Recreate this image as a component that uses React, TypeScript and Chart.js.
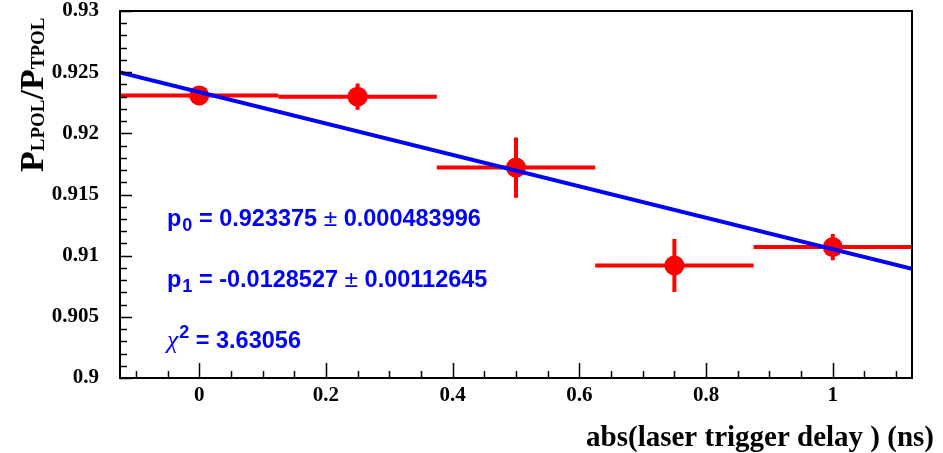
import React, { useEffect, useRef } from "react";
import { Chart, registerables } from "chart.js";
Chart.register(...registerables);

// ---- data ----
const xValues = [0, 0.25, 0.5, 0.75, 1.0];
const yValues = [0.9231, 0.923, 0.9172, 0.9092, 0.9107];
const xErrors = [0.125, 0.125, 0.125, 0.125, 0.125];
const yErrors = [0.0005, 0.00107, 0.00246, 0.00217, 0.00107];
const fitX = [-0.125, 1.125];
const fitY = [0.92498, 0.90892];
const xTickValues = [0, 0.2, 0.4, 0.6, 0.8, 1];
const xTickLabels = ["0", "0.2", "0.4", "0.6", "0.8", "1"];
const yTickValues = [0.9, 0.905, 0.91, 0.915, 0.92, 0.925, 0.93];
const yTickLabels = ["0.9", "0.905", "0.91", "0.915", "0.92", "0.925", "0.93"];
const paramNames = ["p", "p"];
const paramIndex = ["0", "1"];
const paramValues = ["0.923375", "-0.0128527"];
const paramErrors = ["0.000483996", "0.00112645"];
const chi2Value = "3.63056";
const xTitle = "abs(laser trigger delay ) (ns)";

const X_MIN = -0.125, X_MAX = 1.125, Y_MIN = 0.9, Y_MAX = 0.93;
const RED = "#ff0000", BLUE = "#0000ff";
const SERIF = "'Liberation Serif', 'Times New Roman', serif";
const SANS = "'Liberation Sans', Arial, sans-serif";

const decorPlugin = {
  id: "decor",
  beforeDatasetsDraw(chart: any) {
    const { ctx, chartArea, scales } = chart;
    const xs = scales.x, ys = scales.y;
    ctx.save();
    ctx.beginPath();
    ctx.rect(chartArea.left, chartArea.top, chartArea.right - chartArea.left, chartArea.bottom - chartArea.top);
    ctx.clip();
    ctx.strokeStyle = RED;
    ctx.lineWidth = 4;
    ctx.lineCap = "butt";
    for (let i = 0; i < xValues.length; i++) {
      const px = xs.getPixelForValue(xValues[i]);
      const py = ys.getPixelForValue(yValues[i]);
      const x0 = xs.getPixelForValue(xValues[i] - xErrors[i]);
      const x1 = xs.getPixelForValue(xValues[i] + xErrors[i]);
      const y0 = ys.getPixelForValue(yValues[i] - yErrors[i]);
      const y1 = ys.getPixelForValue(yValues[i] + yErrors[i]);
      ctx.beginPath();
      ctx.moveTo(x0, py); ctx.lineTo(x1, py);
      ctx.moveTo(px, y0); ctx.lineTo(px, y1);
      ctx.stroke();
    }
    ctx.restore();
  },
  afterDraw(chart: any) {
    const { ctx, chartArea, scales } = chart;
    const xs = scales.x, ys = scales.y;
    const { left, right, top, bottom } = chartArea;
    ctx.save();
    // ticks
    ctx.strokeStyle = "#000";
    ctx.lineWidth = 1.5;
    ctx.beginPath();
    for (let k = 0; ; k++) {
      const v = -0.1 + k * 0.05;
      if (v > X_MAX + 1e-9) break;
      const major = Math.abs(v / 0.2 - Math.round(v / 0.2)) < 1e-6;
      const px = Math.round(xs.getPixelForValue(v)) + 0.5;
      ctx.moveTo(px, bottom);
      ctx.lineTo(px, bottom - (major ? 15 : 7));
    }
    for (let k = 0; ; k++) {
      const v = Y_MIN + k * 0.001;
      if (v > Y_MAX + 1e-9) break;
      const major = k % 5 === 0;
      const py = Math.round(ys.getPixelForValue(v)) + 0.5;
      ctx.moveTo(left, py);
      ctx.lineTo(left + (major ? 12 : 7), py);
    }
    ctx.stroke();
    // frame
    ctx.lineWidth = 2;
    ctx.strokeRect(left, top, right - left, bottom - top);

    // x title
    ctx.fillStyle = "#000";
    ctx.font = `bold 29px ${SERIF}`;
    ctx.textAlign = "right";
    ctx.textBaseline = "alphabetic";
    ctx.fillText(xTitle, 934, 446);

    // y title (rotated)
    ctx.save();
    ctx.translate(43, 172);
    ctx.rotate(-Math.PI / 2);
    ctx.textAlign = "left";
    let cx = 0;
    const big = `bold 34px ${SERIF}`, small = `bold 19px ${SERIF}`;
    const parts: [string, string, number][] = [
      ["P", big, 0], ["LPOL", small, 1], ["/", big, 0], ["P", big, 0], ["TPOL", small, 1],
    ];
    for (const [t, f, dy] of parts) {
      ctx.font = f;
      ctx.fillText(t, cx, dy);
      cx += ctx.measureText(t).width;
    }
    ctx.restore();

    // fit results
    ctx.fillStyle = BLUE;
    ctx.textAlign = "left";
    const fs = 23.5;
    const boldF = `bold ${fs}px ${SANS}`;
    const subF = `bold ${Math.round(fs * 0.75)}px ${SANS}`;
    const pmF = `${fs + 1}px ${SANS}`;
    const baselines = [226, 287, 348];
    const draw = (t: string, f: string, x: number, y: number) => {
      ctx.font = f;
      ctx.fillText(t, x, y);
      return x + ctx.measureText(t).width;
    };
    for (let i = 0; i < 2; i++) {
      const by = baselines[i];
      let x = 167;
      x = draw(paramNames[i], boldF, x, by);
      x = draw(paramIndex[i], subF, x + 1, by + 5);
      x = draw(" = " + paramValues[i] + " ", boldF, x, by);
      x = draw("\u00b1", pmF, x, by);
      x = draw(" " + paramErrors[i], boldF, x, by);
    }
    {
      const by = baselines[2];
      let x = 167;
      x = draw("\u03c7", `italic ${fs + 2}px ${SERIF}`, x, by);
      x = draw("2", subF, x + 1, by - 10);
      x = draw(" = " + chi2Value, boldF, x, by);
    }
    ctx.restore();
  },
};

export default function App() {
  const ref = useRef<HTMLCanvasElement | null>(null);
  useEffect(() => {
    if (!ref.current) return;
    const chart = new Chart(ref.current, {
      type: "scatter",
      data: {
        datasets: [
          {
            type: "line",
            data: fitX.map((x, i) => ({ x, y: fitY[i] })),
            borderColor: BLUE,
            borderWidth: 4,
            pointRadius: 0,
            fill: false,
            order: 0,
          } as any,
          {
            data: xValues.map((x, i) => ({ x, y: yValues[i] })),
            backgroundColor: RED,
            borderColor: RED,
            borderWidth: 0,
            pointRadius: 10,
            showLine: false,
            order: 1,
          },
        ],
      },
      options: {
        animation: false,
        responsive: false,
        devicePixelRatio: 1,
        layout: { padding: { left: 0, right: 31, top: 11, bottom: 0 } },
        plugins: { legend: { display: false }, tooltip: { enabled: false }, title: { display: false } },
        scales: {
          x: {
            type: "linear",
            min: X_MIN,
            max: X_MAX,
            grid: { display: false, drawTicks: false },
            border: { display: false },
            afterBuildTicks: (s: any) => { s.ticks = xTickValues.map((v) => ({ value: v })); },
            afterFit: (s: any) => { s.height = 75; s.paddingLeft = 0; s.paddingRight = 0; },
            ticks: {
              padding: 5,
              maxRotation: 0,
              autoSkip: false,
              color: "#000",
              font: { family: SERIF, size: 21, weight: "bold" },
              callback: (_v: any, i: number) => xTickLabels[i],
            },
          },
          y: {
            type: "linear",
            min: Y_MIN,
            max: Y_MAX,
            grid: { display: false, drawTicks: false },
            border: { display: false },
            afterBuildTicks: (s: any) => { s.ticks = yTickValues.map((v) => ({ value: v })); },
            afterFit: (s: any) => { s.width = 120; s.paddingTop = 0; s.paddingBottom = 0; },
            ticks: {
              padding: 21,
              autoSkip: false,
              color: "#000",
              font: { family: SERIF, size: 21, weight: "bold" },
              callback: (_v: any, i: number) => yTickLabels[i],
            },
          },
        },
      },
      plugins: [decorPlugin],
    });
    return () => chart.destroy();
  }, []);
  return (
    <div style={{ position: "fixed", left: 0, top: 0, width: 943, height: 453, background: "#fff" }}>
      <canvas ref={ref} width={943} height={453} style={{ width: 943, height: 453, display: "block" }} />
    </div>
  );
}
